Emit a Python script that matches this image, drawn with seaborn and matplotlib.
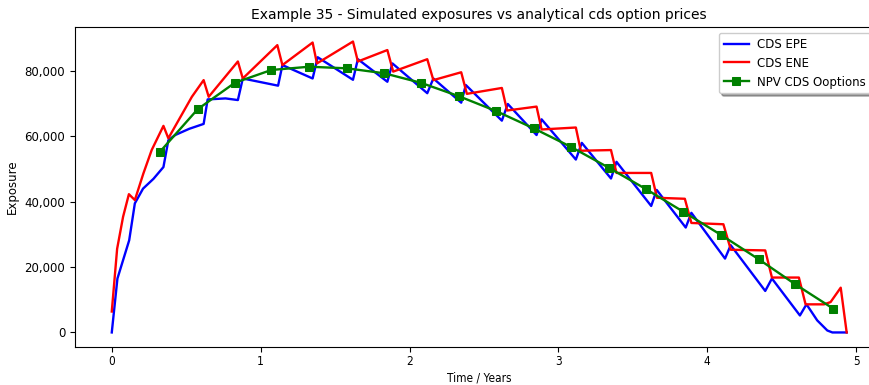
import matplotlib
matplotlib.use("Agg")
import matplotlib.pyplot as plt
import matplotlib.ticker as mticker
import seaborn as sns
import pandas as pd

# ---- data (values in thousands) ----
epe_t = [0.0, 0.038, 0.117, 0.155, 0.21, 0.28, 0.347, 0.38, 0.426, 0.52, 0.617, 0.644, 0.764,
         0.847, 0.88, 1.117, 1.146, 1.349, 1.383, 1.62, 1.653, 1.851, 1.885, 2.119, 2.16, 2.347,
         2.378, 2.62, 2.66, 2.853, 2.887, 3.117, 3.157, 3.353, 3.39, 3.623, 3.66, 3.855, 3.893,
         4.119, 4.157, 4.389, 4.434, 4.622, 4.666, 4.70, 4.738, 4.806, 4.84, 4.936]
epe_v = [0.0, 16.5, 28.2, 39.5, 44.0, 47.0, 50.6, 58.8, 60.4, 62.3, 63.8, 71.3, 71.6,
         71.1, 77.7, 75.5, 81.8, 77.7, 84.2, 77.3, 83.6, 76.7, 82.3, 73.2, 77.7, 70.3,
         75.7, 64.8, 69.9, 60.4, 65.2, 52.9, 58.0, 47.1, 52.2, 38.7, 43.6, 32.1, 36.6,
         22.6, 26.7, 12.7, 16.5, 5.2, 8.6, 6.3, 3.7, 0.6, 0.0, 0.0]

ene_t = [0.0, 0.036, 0.076, 0.115, 0.155, 0.212, 0.268, 0.347, 0.38, 0.538, 0.617, 0.651,
         0.847, 0.88, 1.112, 1.146, 1.349, 1.378, 1.62, 1.653, 1.851, 1.89, 2.119, 2.16,
         2.347, 2.385, 2.62, 2.655, 2.853, 2.887, 3.117, 3.15, 3.353, 3.39, 3.623, 3.662,
         3.849, 3.893, 4.108, 4.158, 4.389, 4.434, 4.615, 4.66, 4.784, 4.828, 4.896, 4.936]
ene_v = [6.4, 25.6, 35.4, 42.3, 40.5, 48.6, 55.8, 63.2, 59.4, 72.1, 77.2, 72.1,
         82.9, 77.7, 87.9, 81.8, 88.7, 82.3, 89.0, 82.9, 86.4, 79.8, 83.6, 77.2,
         79.6, 73.0, 74.8, 67.9, 69.1, 62.1, 62.7, 55.6, 55.8, 48.8, 48.8, 41.2,
         40.9, 33.5, 33.1, 25.3, 25.1, 16.8, 16.8, 8.6, 8.6, 9.3, 13.7, 0.0]

npv_t = [0.324, 0.577, 0.827, 1.072, 1.327, 1.581, 1.829, 2.075, 2.33, 2.583, 2.836,
         3.083, 3.338, 3.59, 3.84, 4.09, 4.345, 4.592, 4.845]
npv_v = [55.3, 68.3, 76.4, 80.3, 81.3, 80.8, 79.3, 76.4, 72.3, 67.7, 62.4,
         56.8, 50.4, 43.8, 36.9, 29.9, 22.4, 14.7, 7.3]

labels = ["CDS EPE", "CDS ENE", "NPV CDS Ooptions"]
title = "Example 35 - Simulated exposures vs analytical cds option prices"

df_epe = pd.DataFrame({"t": epe_t, "v": [x * 1000 for x in epe_v]})
df_ene = pd.DataFrame({"t": ene_t, "v": [x * 1000 for x in ene_v]})
df_npv = pd.DataFrame({"t": npv_t, "v": [x * 1000 for x in npv_v]})

plt.rcParams["font.family"] = ["DejaVu Sans"]
fig = plt.figure(figsize=(8.7, 3.85), dpi=100)
ax = fig.add_axes([75 / 870, 38 / 385, 808 / 870, 320 / 385])

sns.lineplot(data=df_epe, x="t", y="v", ax=ax, color="blue", lw=1.7,
             estimator=None, sort=False, label=labels[0])
sns.lineplot(data=df_ene, x="t", y="v", ax=ax, color="red", lw=1.7,
             estimator=None, sort=False, label=labels[1])
sns.lineplot(data=df_npv, x="t", y="v", ax=ax, color="green", lw=1.7,
             marker="s", markersize=5.5, markeredgecolor="green",
             estimator=None, sort=False, label=labels[2])

ax.set_xlim(-0.247, 5.18)
ax.set_ylim(-4450, 93450)
ax.set_xticks([0, 1, 2, 3, 4, 5])
ax.set_yticks([0, 20000, 40000, 60000, 80000])
ax.yaxis.set_major_formatter(mticker.FuncFormatter(lambda v, p: f"{int(v):,}"))
ax.tick_params(axis="both", labelsize=8.5, length=3.5)
ax.tick_params(axis="x", pad=2.5)
for lab in ax.get_xticklabels():
    lab.set_fontstretch("condensed")
ax.set_xlabel("Time / Years", fontsize=8.5, fontstretch="condensed", labelpad=2)
ax.set_ylabel("Exposure", fontsize=8.5)
ax.set_title(title, fontsize=10)
for s in ax.spines.values():
    s.set_linewidth(0.8)

ax.legend(loc="upper left", bbox_to_anchor=(719 / 870, 1 - 33 / 385),
          bbox_transform=fig.transFigure, fontsize=8.5, shadow=True, fancybox=True,
          framealpha=1.0, borderpad=0.4, handlelength=2.1, handletextpad=0.7,
          borderaxespad=0.0)

fig.savefig("out.png", dpi=100)
